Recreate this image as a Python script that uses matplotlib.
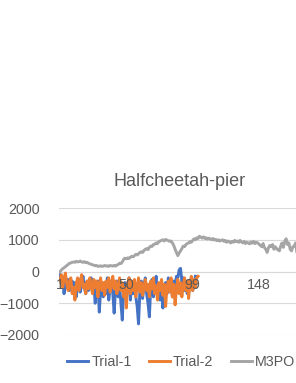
import matplotlib.pyplot as plt

# Episode rewards
trial_1 = [
    -100, -400, -200, -700, -300, -500, -250, -600, -400, -300,
    -550, -350, -800, -450, -250, -650, -400, -150, -500, -700,
    -300, -600, -450, -200, -650, -400, -1000, -500, -300, -1280,
    -600, -400, -800, -350, -700, -200, -900, -500, -300, -700,
    -1310, -550, -300, -800, -450, -1000, -1530, -600, -350, -800,
    -500, -200, -900, -400, -700, -300, -800, -1100, -1650, -600,
    -300, -850, -450, -200, -700, -1000, -1430, -500, -250, -800,
    -400, -150, -750, -500, -900, -300, -1150, -600, -350, -700,
    -200, -600, -400, -800, -300, -500, -150, -200, 50, 100,
    -300, -200, -600, -400, -700, -300, -500, -200, -600, -400,
    -150,
]
trial_2 = [
    -300, -100, -500, -200, -50, -400, -600, -300, -200, -700,
    -500, -900, -400, -200, -600, -300, -100, -500, -400, -700,
    -300, -550, -200, -450, -700, -250, -500, -300, -800, -400,
    -200, -600, -350, -750, -300, -500, -200, -650, -400, -150,
    -550, -300, -700, -450, -200, -600, -350, -800, -500, -1150,
    -400, -200, -700, -300, -600, -250, -800, -450, -200, -650,
    -350, -750, -500, -250, -600, -400, -800, -300, -550, -200,
    -700, -450, -900, -350, -600, -250, -750, -400, -1100, -500,
    -300, -650, -200, -800, -400, -1050, -550, -250, -700, -350,
    -800, -450, -200, -600, -300, -850, -400, -150, -600, -250,
    -500, -200, -150,
]
m3po = [
    0, 40, 90, 120, 150, 190, 220, 260, 270, 290,
    300, 290, 320, 300, 310, 330, 300, 290, 310, 280,
    290, 260, 240, 230, 210, 200, 180, 190, 160, 170,
    180, 160, 170, 190, 170, 180, 160, 190, 180, 170,
    190, 170, 200, 220, 260, 250, 300, 380, 420, 400,
    430, 410, 450, 480, 460, 500, 540, 520, 560, 600,
    620, 600, 660, 700, 720, 690, 760, 800, 790, 850,
    860, 900, 880, 940, 960, 980, 1000, 960, 1010, 990,
    970, 950, 960, 900, 820, 700, 600, 500, 580, 650,
    720, 800, 780, 850, 880, 900, 940, 920, 980, 1030,
    1000, 1060, 1040, 1110, 1080, 1050, 1090, 1040, 1060, 1020,
    1050, 1030, 1000, 1040, 990, 1010, 970, 1000, 960, 980,
    1000, 950, 980, 920, 960, 940, 900, 950, 920, 980,
    940, 960, 920, 980, 930, 900, 950, 880, 920, 900,
    870, 930, 890, 950, 880, 920, 900, 860, 820, 780,
    880, 750, 700, 600, 750, 820, 780, 850, 700, 780,
    720, 680, 650, 800, 900, 760, 950, 1030, 850, 900,
    700, 650, 780, 800, 900, 600, 700, 750,
]
x_ticks = [1, 50, 99, 148]
y_ticks = [-2000, -1000, 0, 1000, 2000]

W, H = 296, 383
fig = plt.figure(figsize=(W / 100, H / 100), dpi=100)
plt.rcParams['font.family'] = ['Liberation Sans', 'DejaVu Sans']

# plot area runs past the right edge, as in the cropped original
ax = fig.add_axes([59 / W, 48 / H, (W - 59) / W, 127 / H])

# gridlines drawn by hand so the axis labels can sit above the lines
for v in y_ticks:
    ax.axhline(v, color='#D9D9D9', lw=0.8, zorder=1)

ax.plot(range(1, len(trial_1) + 1), trial_1, color='#4472C4', lw=2.1, label='Trial-1', zorder=2)
ax.plot(range(1, len(trial_2) + 1), trial_2, color='#ED7D31', lw=2.1, label='Trial-2', zorder=2)
ax.plot(range(1, len(m3po) + 1), m3po, color='#A5A5A5', lw=2.1, label='M3PO', zorder=2)

ax.set_xlim(0.26, 175.3)
ax.set_ylim(-2000, 2000)
ax.set_yticks(y_ticks)
ax.set_xticks(x_ticks)
ax.set_axisbelow(False)
for s in ['top', 'right', 'left']:
    ax.spines[s].set_visible(False)
ax.spines['bottom'].set_position(('data', 0))
ax.spines['bottom'].set_color('#D9D9D9')
ax.spines['bottom'].set_zorder(1)
ax.tick_params(length=0, labelsize=10.3, labelcolor='#595959')
ax.tick_params(axis='x', pad=5)
ax.tick_params(axis='y', pad=14)

fig.text(180 / W, 1 - 181 / H, 'Halfcheetah-pier', ha='center', va='center',
         fontsize=13, color='#595959')

fig.legend(loc='center', bbox_to_anchor=(181 / W, 1 - 362 / H), ncol=3,
           frameon=False, fontsize=10.3, labelcolor='#595959',
           handlelength=1.5, handletextpad=0.2, columnspacing=1.2)

fig.savefig('out.png', dpi=100)
